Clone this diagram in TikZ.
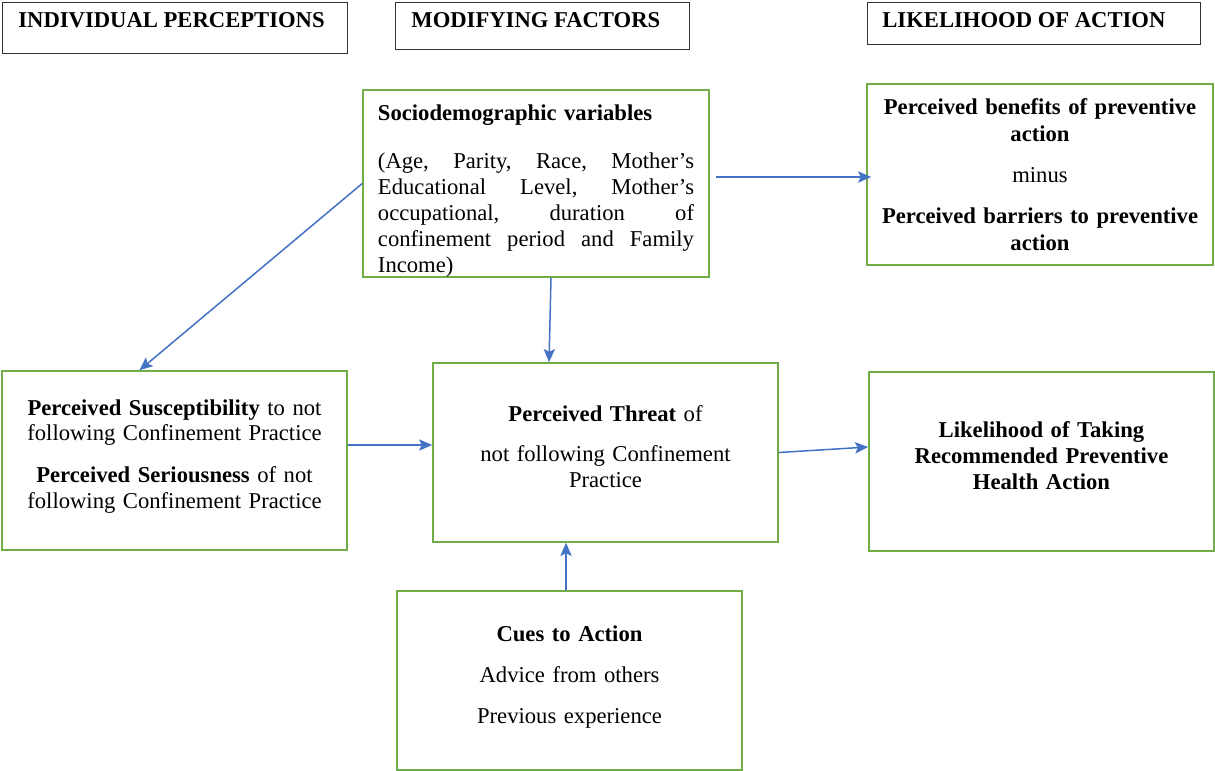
\documentclass[tikz,border=0pt]{standalone}
\usepackage{fontspec}
\setmainfont{Liberation Serif}
\usetikzlibrary{calc,arrows.meta}
\definecolor{boxgreen}{HTML}{70AD47}
\definecolor{linkblue}{HTML}{4472C4}
\tikzset{>={Stealth[length=7pt,width=6pt,inset=1.5pt]}}
\tikzset{
  greenbox/.style={draw=boxgreen, line width=0.8pt, minimum width=182.9pt, minimum height=94.9pt,
    text width=175pt, align=center, font=\fontsize{12pt}{13.8pt}\selectfont},
  lift/.style={execute at end node={\par\vspace*{#1}}},
  hdrbox/.style={draw=black!80, line width=0.6pt, anchor=north west},
  hdrtext/.style={anchor=base west, inner sep=0pt, font=\fontsize{12pt}{13.8pt}\selectfont\bfseries},
  linkarrow/.style={->, draw=linkblue, fill=linkblue, line width=0.8pt}
}
\newcommand{\jline}[1]{\makebox[167.5pt][s]{#1}}

\begin{document}
\begin{tikzpicture}[x=0.53pt, y=-0.53pt]
    \useasboundingbox (0,0) rectangle (1215,771);
    % column headers
    \node[hdrbox, minimum width=182.9pt, minimum height=27pt] (hperc) at (2,2) {};
    \node[hdrbox, minimum width=155.8pt, minimum height=24.9pt] (hmod) at (395,2) {};
    \node[hdrbox, minimum width=176.5pt, minimum height=22.3pt] (hlik) at (867,2) {};
    \node[hdrtext] (tperc) at (18,28) {INDIVIDUAL PERCEPTIONS};
    \node[hdrtext] (tmod) at (411,28) {MODIFYING FACTORS};
    \node[hdrtext] (tlik) at (882,28) {LIKELIHOOD OF ACTION};
    % boxes
    \node[greenbox, minimum width=183.4pt, minimum height=99.1pt, text width=167.5pt, align=left,
          lift=-8.2pt] (socio) at (536,183.5)
        {\textbf{Sociodemographic variables}\\[11.6pt]
         \jline{(Age,\hfill Parity,\hfill Race,\hfill Mother’s}\\
         \jline{Educational\hfill Level,\hfill Mother’s}\\
         \jline{occupational,\hfill duration\hfill of}\\
         \jline{confinement\hfill period\hfill and\hfill Family}\\
         Income)};
    \node[greenbox, minimum width=183.4pt, minimum height=95.9pt,
          font=\fontsize{12pt}{14.3pt}\selectfont] (benef) at (1040,174.5)
        {\textbf{Perceived benefits of preventive}\\ \textbf{action}\\[7.6pt]
         minus\\[7.6pt]
         \textbf{Perceived barriers to preventive}\\ \textbf{action}};
    \node[greenbox, font=\fontsize{12pt}{13.3pt}\selectfont, lift=4.2pt] (suscept) at (174.5,460.5)
        {\textbf{Perceived Susceptibility} to not\\ following Confinement Practice\\[9pt]
         \textbf{Perceived Seriousness} of not\\ following Confinement Practice};
    \node[greenbox, lift=6.6pt] (threat) at (605.5,452.5)
        {\textbf{Perceived Threat} of\\[7.4pt] not following Confinement\\ Practice};
    \node[greenbox, font=\fontsize{12pt}{13.8pt}\selectfont\bfseries, lift=6.6pt] (likely) at (1041.5,461.5)
        {Likelihood of Taking\\ Recommended Preventive\\ Health Action};
    \node[greenbox, lift=3.7pt] (cues) at (569.5,680.5)
        {\textbf{Cues to Action}\\[7.9pt] Advice from others\\[7.9pt] Previous experience};
    % links
    \coordinate (sb) at ($(socio.east)+(6,-6.5)$);
    \coordinate (st) at ($(suscept.east)+(0,-15.5)$);
    \coordinate (ct) at ($(cues.north)+(-3.5,0)$);
    \draw[linkarrow] (socio.west) -- ($(suscept.north)+(-35,0)$);
    \draw[linkarrow] ($(socio.south)+(15,0)$) -- ($(threat.north)+(-56.5,0)$);
    \draw[linkarrow] (sb) -- ($(sb -| benef.west)+(5,0)$);
    \draw[linkarrow] (st) -- (st -| threat.west);
    \draw[linkarrow] (threat.east) -- ($(likely.west)+(0,-14.5)$);
    \draw[linkarrow] (ct) -- (ct |- threat.south);
\end{tikzpicture}
\end{document}
